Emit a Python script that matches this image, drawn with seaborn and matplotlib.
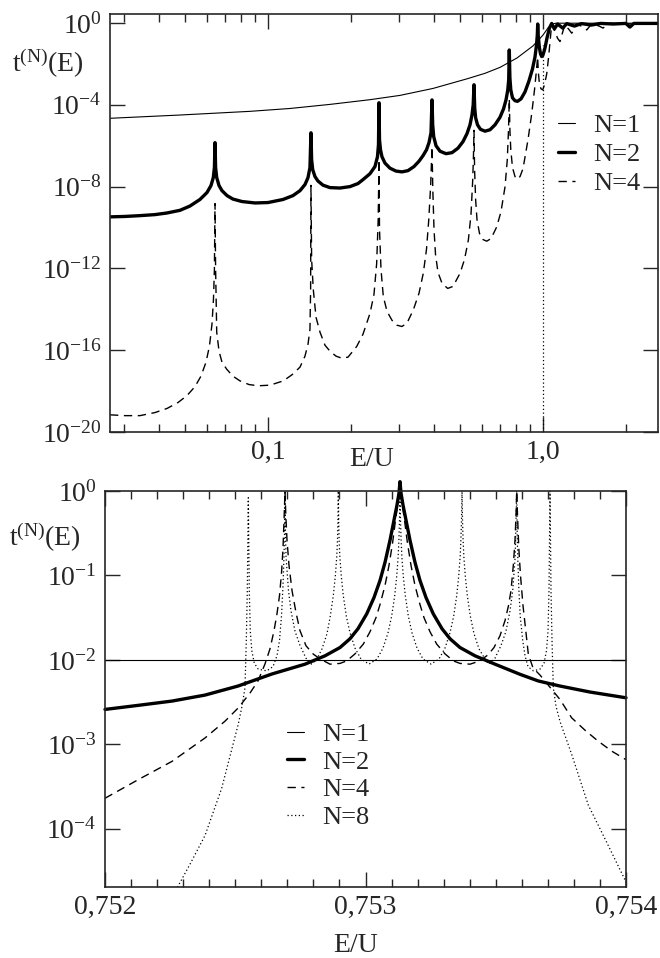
import numpy as np
import matplotlib
matplotlib.use("Agg")
import matplotlib.pyplot as plt
import seaborn as sns
from matplotlib.ticker import FixedLocator, FixedFormatter, NullLocator, NullFormatter, LogLocator, MultipleLocator

# ---- top panel: E/U on a log axis, values are log10 t(E)
top_e_n1 = [0.02664, 0.04786, 0.08598, 0.1202, 0.1681, 0.2349, 0.302, 0.3981, 0.5293, 0.6154,
            0.6977, 0.8045, 0.9197, 1.0, 1.0428, 1.0783, 1.1150, 2.619]
top_lt_n1 = [-4.66, -4.50, -4.32, -4.18, -3.98, -3.75, -3.54, -3.20, -2.73, -2.46,
             -2.17, -1.71, -1.12, -0.59, -0.24, -0.05, -0.01, -0.01]

top_e_n2 = [0.02664, 0.0302, 0.03423, 0.03881, 0.04292, 0.04786, 0.05204, 0.05657, 0.06001, 0.06205,
            0.06326, 0.06385, 0.06417,
            0.06450, 0.06510, 0.06637, 0.06805, 0.07096, 0.07457, 0.08042, 0.08969, 0.1, 0.1134,
            0.1233, 0.1307, 0.1363, 0.1398, 0.1421, 0.1433,
            0.1441, 0.1454, 0.1482, 0.1520, 0.1585, 0.1681, 0.1827, 0.1987, 0.2125, 0.2215,
            0.2349, 0.2449, 0.2501, 0.2522, 0.2533,
            0.2544, 0.2565, 0.2597, 0.2663, 0.2777, 0.2920, 0.3069, 0.3228, 0.3395, 0.3540,
            0.3661, 0.3770, 0.3850, 0.3915, 0.3948,
            0.3971, 0.4005, 0.4083, 0.4222, 0.4439, 0.4668, 0.4908, 0.5118, 0.5292, 0.5427,
            0.5518, 0.5574, 0.5612,
            0.5645, 0.5688, 0.5779, 0.5926, 0.6154, 0.6417, 0.6690, 0.6977, 0.7185, 0.7337,
            0.7447, 0.7503, 0.7541,
            0.7579, 0.7636, 0.7746, 0.7910, 0.8077, 0.8318, 0.8601, 0.8893, 0.9159, 0.9352,
            0.9470, 0.9534, 0.9566,
            0.9606, 0.9695, 0.9793, 0.9892, 1.0, 1.0169, 1.0341, 1.0559, 1.0755, 1.10,
            1.13, 1.18, 1.22, 1.30, 1.38, 1.50, 1.62, 1.80, 2.0, 2.07,
            2.14, 2.619]
top_lt_n2 = [-9.48, -9.46, -9.42, -9.37, -9.29, -9.16, -8.95, -8.63, -8.29, -7.95,
             -7.56, -7.07, -5.85,
             -7.07, -7.56, -7.95, -8.20, -8.44, -8.61, -8.73, -8.80, -8.78, -8.63,
             -8.44, -8.20, -7.90, -7.56, -7.07, -5.37,
             -6.68, -7.17, -7.51, -7.73, -7.93, -8.05, -8.07, -8.00, -7.85, -7.66,
             -7.37, -7.02, -6.54, -5.95, -3.90,
             -5.71, -6.20, -6.54, -6.85, -7.10, -7.24, -7.28, -7.22, -7.02, -6.76,
             -6.49, -6.20, -5.85, -5.37, -3.76,
             -4.98, -5.56, -6.00, -6.27, -6.39, -6.34, -6.12, -5.80, -5.41, -4.98,
             -4.49, -4.00, -3.02,
             -4.15, -4.63, -4.98, -5.20, -5.29, -5.22, -4.98, -4.61, -4.20, -3.76,
             -3.27, -2.78, -1.32,
             -2.68, -3.27, -3.66, -3.80, -3.83, -3.71, -3.37, -2.83, -2.24, -1.66,
             -1.07, -0.59, -0.05,
             -0.59, -1.17, -1.51, -1.64, -1.56, -1.22, -0.73, -0.24, -0.02, -0.29,
             -0.05, -0.25, -0.03, -0.15, -0.03, -0.10, -0.02, -0.05, -0.02, -0.20,
             -0.02, -0.02]

top_e_n4 = [0.02664, 0.0302, 0.03423, 0.03881, 0.04292, 0.04707, 0.05075, 0.05427, 0.05705, 0.05950,
            0.06126, 0.06256, 0.06335, 0.06385, 0.06417,
            0.06450, 0.06510, 0.06637, 0.06805, 0.07078, 0.07457, 0.07908, 0.08531, 0.09219, 0.1017,
            0.1137, 0.1223, 0.1307, 0.1363, 0.1398, 0.1421, 0.1429, 0.1433,
            0.1441, 0.1461, 0.1495, 0.1546, 0.1612, 0.1681, 0.1767, 0.1854, 0.1954, 0.2101,
            0.2215, 0.2349, 0.2429, 0.2484, 0.2516, 0.2533,
            0.2544, 0.2576, 0.2626, 0.2709, 0.2825, 0.2945, 0.3069, 0.3201, 0.3376, 0.3540,
            0.3670, 0.3770, 0.3843, 0.3905, 0.3935, 0.3948,
            0.3975, 0.4015, 0.4066, 0.4152, 0.4294, 0.4503, 0.4707, 0.4992, 0.5183, 0.5352,
            0.5472, 0.5551, 0.5588, 0.5612,
            0.5640, 0.5688, 0.5754, 0.5876, 0.6051, 0.6243, 0.6473, 0.6787, 0.7036, 0.7276,
            0.7416, 0.7491, 0.7541,
            0.7579, 0.7636, 0.7746, 0.7910, 0.8064, 0.8249, 0.8459, 0.8601, 0.8819, 0.9097,
            0.9313, 0.9454, 0.9560,
            0.9614, 0.9711, 0.9834, 0.9975, 1.0126, 1.0315, 1.0471, 1.0604, 1.0755, 1.10,
            1.13, 1.153, 1.17, 1.20, 1.24, 1.272, 1.30, 1.33, 1.40, 1.442,
            1.48, 1.52, 1.60, 1.653, 1.70, 1.75, 2.0, 2.619]
top_lt_n4 = [-19.16, -19.20, -19.20, -19.05, -18.85, -18.56, -18.22, -17.78, -17.27, -16.59,
             -15.80, -14.73, -13.51, -12.05, -8.83,
             -12.05, -15.12, -16.05, -16.59, -16.93, -17.27, -17.50, -17.68, -17.74, -17.71,
             -17.50, -17.20, -16.83, -16.29, -15.71, -14.98, -13.02, -7.94,
             -11.56, -13.02, -14.39, -15.12, -15.76, -16.05, -16.29, -16.39, -16.34, -15.82,
             -15.22, -14.20, -13.27, -11.76, -9.61, -6.68,
             -10.10, -12.05, -13.37, -14.10, -14.54, -14.78, -14.84, -14.68, -14.03, -13.22,
             -12.24, -11.07, -9.61, -7.90, -6.68, -6.05,
             -8.15, -10.10, -11.32, -12.20, -12.73, -12.98, -12.88, -12.24, -11.56, -10.62,
             -9.37, -7.69, -6.44, -5.25,
             -7.17, -8.63, -9.61, -10.29, -10.59, -10.67, -10.54, -9.97, -9.22, -8.01,
             -6.68, -5.22, -3.71,
             -5.22, -6.20, -7.07, -7.51, -7.64, -7.51, -7.12, -6.55, -5.71, -4.44,
             -3.27, -2.39, -1.66,
             -2.39, -3.02, -3.22, -3.27, -3.02, -2.49, -1.71, -0.93, -0.05, -0.35,
             -0.75, -0.91, -0.60, -0.10, -0.30, -0.50, -0.30, -0.05, -0.20, -0.34,
             -0.15, -0.05, -0.15, -0.25, -0.10, -0.02, -0.05, -0.01]

barrier_e = 1.0
barrier_lt = [-20.0, -1.1]

# ---- bottom panel: one band, E/U = 0.752 + de * 1e-6
e0 = 0.752
bot_de_n1 = [0.0, 2000.0]
bot_lt_n1 = [-2.0, -2.0]

bot_de_n2 = [0.0, 134.4, 257.2, 383.9, 510.6, 641.1, 767.8, 844.5, 902.1, 940.5,
             971.2, 1004.6, 1032.6, 1055.7, 1074.9, 1094.1, 1109.4, 1120.9, 1128.6, 1132.4,
             1136.3, 1144.0, 1155.5, 1170.8, 1190.0, 1209.2, 1232.3, 1260.3, 1293.7, 1324.4,
             1362.8, 1420.4, 1497.1, 1593.1, 1663.4, 1746.7, 1861.8, 2000.0]
bot_lt_n2 = [-2.587, -2.536, -2.488, -2.417, -2.310, -2.167, -2.051, -1.952, -1.854, -1.750,
             -1.631, -1.456, -1.262, -1.060, -0.845, -0.583, -0.345, -0.167, -0.024, 0.111,
             -0.024, -0.167, -0.345, -0.583, -0.845, -1.060, -1.262, -1.456, -1.631, -1.750,
             -1.854, -1.952, -2.051, -2.171, -2.25, -2.31, -2.381, -2.449]

bot_de_n4 = [0.0, 126.7, 257.2, 383.9, 460.7, 511.7, 556.6, 587.3, 614.2, 633.4,
             648.8, 660.3, 669.9, 677.5, 683.3, 687.9, 691.0,
             694.1, 698.7, 706.3, 717.9, 733.2, 748.6, 771.6, 799.6, 825.3, 863.7,
             902.1, 927.9, 959.7, 991.6, 1017.3, 1040.3, 1055.7, 1074.9, 1090.2, 1103.7,
             1115.2, 1124.8, 1132.4,
             1140.1, 1149.7, 1161.2, 1174.7, 1190.0, 1209.2, 1224.6, 1247.6, 1273.3, 1305.2,
             1337.1, 1362.8, 1401.2, 1439.6, 1470.3, 1493.3, 1516.3, 1535.5, 1549.0, 1558.6,
             1567.4, 1573.9, 1577.8, 1580.4,
             1583.5, 1588.5, 1595.0, 1604.6, 1616.1, 1625.0, 1643.0, 1669.9, 1701.8, 1746.7,
             1791.6, 1842.6, 1893.7, 1946.3, 2000.0]
bot_lt_n4 = [-3.639, -3.420, -3.202, -2.925, -2.726, -2.568, -2.393, -2.25, -2.048, -1.869,
             -1.655, -1.452, -1.238, -0.976, -0.679, -0.286, 0.0,
             -0.286, -0.583, -0.881, -1.179, -1.440, -1.655, -1.833, -1.932, -1.988, -2.051,
             -2.042, -2.012, -1.929, -1.813, -1.667, -1.5, -1.345, -1.119, -0.881, -0.619,
             -0.345, -0.131, 0.0,
             -0.131, -0.345, -0.619, -0.881, -1.119, -1.345, -1.5, -1.667, -1.813, -1.929,
             -2.012, -2.042, -2.051, -2.012, -1.940, -1.854, -1.714, -1.536, -1.357, -1.179,
             -0.881, -0.583, -0.286, 0.0,
             -0.286, -0.679, -1.0, -1.357, -1.679, -1.932, -2.095, -2.18, -2.30, -2.47,
             -2.687, -2.833, -2.964, -3.083, -3.182]

bot_de_n8 = [257.2, 275.2, 326.3, 383.9, 448.0, 479.9, 511.7, 525.9, 537.4, 542.4,
             546.3, 548.2, 550.1, 552.0, 553.9, 557.8, 563.5, 573.1, 588.5, 620.7,
             644.9, 660.3, 669.9, 677.5, 683.3, 687.1, 689.1, 691.0, 692.9, 694.8,
             698.7, 704.4, 714.0, 729.4, 748.6, 771.6, 792.7, 813.8, 833.0, 852.2,
             864.9, 876.4, 884.1, 889.8, 892.5, 894.1, 895.6, 897.1, 898.7, 901.4,
             907.1, 914.8, 926.3, 940.5, 959.7, 982.7, 1013.4, 1044.2, 1067.2, 1086.4,
             1100.6, 1112.1, 1119.8, 1125.5, 1128.2, 1130.5, 1132.4, 1134.4, 1136.7, 1139.4,
             1145.1, 1152.8, 1164.3, 1178.5, 1197.7, 1220.7, 1251.4, 1282.2, 1305.2, 1324.4,
             1338.6, 1350.1, 1357.8, 1363.5, 1366.2, 1368.5, 1370.5, 1372.4, 1374.7, 1377.4,
             1383.1, 1390.8, 1402.3, 1416.5, 1435.7, 1458.7, 1474.1, 1497.1, 1520.2, 1539.4,
             1554.7, 1565.1, 1570.8, 1574.7, 1576.6, 1580.4, 1582.4, 1584.3, 1588.1, 1593.9,
             1603.5, 1612.3, 1623.8, 1644.2, 1669.9, 1685.2, 1694.8, 1700.6, 1704.4, 1706.3,
             1708.3, 1710.2, 1712.1, 1716.0, 1720.9, 1731.3, 1746.7, 1791.6, 1855.3, 1919.4,
             2000.0]
bot_lt_n8 = [-4.81, -4.71, -4.42, -4.08, -3.52, -3.14, -2.76, -2.55, -2.33, -1.77,
             -1.18, -0.64, -0.08, -0.64, -1.18, -1.66, -1.89, -2.04, -2.11, -2.13,
             -2.08, -1.95, -1.77, -1.48, -1.12, -0.77, -0.52, 0.0, -0.52, -0.77,
             -0.94, -1.18, -1.42, -1.66, -1.83, -1.98, -2.05, -1.99, -1.87, -1.69,
             -1.48, -1.24, -1.01, -0.77, -0.58, -0.35, 0.0, -0.35, -0.58, -0.77,
             -1.01, -1.24, -1.48, -1.68, -1.86, -1.99, -2.05, -1.99, -1.86, -1.68,
             -1.48, -1.24, -1.01, -0.77, -0.58, -0.35, 0.0, -0.35, -0.58, -0.77,
             -1.01, -1.24, -1.48, -1.68, -1.86, -1.99, -2.05, -1.99, -1.86, -1.68,
             -1.48, -1.24, -1.01, -0.77, -0.58, -0.35, 0.0, -0.35, -0.58, -0.77,
             -1.01, -1.24, -1.48, -1.69, -1.87, -1.99, -2.05, -1.98, -1.83, -1.66,
             -1.42, -1.18, -0.94, -0.77, -0.52, 0.0, -0.52, -0.77, -1.12, -1.48,
             -1.77, -1.95, -2.08, -2.13, -2.11, -2.04, -1.89, -1.66, -1.18, -0.64,
             0.0, -0.64, -1.18, -1.77, -2.33, -2.55, -2.73, -3.12, -3.72, -4.12,
             -4.63]

sns.set_style("ticks")
plt.rcParams["font.family"] = ["Liberation Serif", "DejaVu Serif"]
plt.rcParams["mathtext.fontset"] = "custom"
plt.rcParams["mathtext.rm"] = "Liberation Serif"
plt.rcParams["mathtext.it"] = "Liberation Serif:italic"
plt.rcParams["mathtext.default"] = "regular"

FS = 20
thin = dict(color="black", linewidth=0.8, linestyle="-")
thick = dict(color="black", linewidth=2.4, linestyle="-")
dash = dict(color="black", linewidth=1.0, linestyle=(0, (6, 4)))
dot = dict(color="black", linewidth=0.9, linestyle=(0, (1, 2)))

fig = plt.figure(figsize=(6.6, 9.58), dpi=100)
ax1 = fig.add_axes([110 / 660, 1 - 432 / 958, 548 / 660, 418 / 958])
ax2 = fig.add_axes([105 / 660, 1 - 887 / 958, 521 / 660, 396 / 958])


def pw(v):
    return 10.0 ** np.array(v)


def be(de):
    return e0 + np.array(de) * 1e-6


# top panel
ax1.set_xscale("log")
ax1.set_yscale("log")
sns.lineplot(x=top_e_n1, y=pw(top_lt_n1), ax=ax1, errorbar=None, sort=False, label="N=1", **thin)
sns.lineplot(x=top_e_n2, y=pw(top_lt_n2), ax=ax1, errorbar=None, sort=False, label="N=2", **thick)
sns.lineplot(x=top_e_n4, y=pw(top_lt_n4), ax=ax1, errorbar=None, sort=False, label="N=4", **dash)
ax1.vlines(barrier_e, 10.0 ** barrier_lt[0], 10.0 ** barrier_lt[1], colors="black",
           linewidth=0.9, linestyles=[(0, (1, 2))])
ax1.set_xlim(0.02664, 2.619)
ax1.set_ylim(1e-20, 10 ** 0.44)
ax1.xaxis.set_major_locator(FixedLocator([0.1, 1.0]))
ax1.xaxis.set_major_formatter(FixedFormatter(["0,1", "1,0"]))
ax1.xaxis.set_minor_locator(LogLocator(base=10, subs=np.arange(2, 10), numticks=20))
ax1.xaxis.set_minor_formatter(NullFormatter())
ax1.yaxis.set_major_locator(FixedLocator([1e0, 1e-4, 1e-8, 1e-12, 1e-16, 1e-20]))
ax1.yaxis.set_major_formatter(FixedFormatter(["$10^{0}$", "$10^{-4}$", "$10^{-8}$",
                                               "$10^{-12}$", "$10^{-16}$", "$10^{-20}$"]))
ax1.yaxis.set_minor_locator(NullLocator())
ax1.legend(loc="upper left", bbox_to_anchor=(0.8175, 0.762), frameon=False, fontsize=19,
           borderpad=0, borderaxespad=0, handlelength=0.65, handletextpad=0.7, labelspacing=0.21)

# bottom panel
ax2.set_yscale("log")
sns.lineplot(x=be(bot_de_n1), y=pw(bot_lt_n1), ax=ax2, errorbar=None, sort=False, label="N=1", **thin)
sns.lineplot(x=be(bot_de_n2), y=pw(bot_lt_n2), ax=ax2, errorbar=None, sort=False, label="N=2",
             clip_on=False, **thick)
sns.lineplot(x=be(bot_de_n4), y=pw(bot_lt_n4), ax=ax2, errorbar=None, sort=False, label="N=4", **dash)
sns.lineplot(x=be(bot_de_n8), y=pw(bot_lt_n8), ax=ax2, errorbar=None, sort=False, label="N=8", **dot)
ax2.set_xlim(0.752, 0.754)
ax2.set_ylim(10 ** -4.69, 1.0)
ax2.xaxis.set_major_locator(FixedLocator([0.752, 0.753, 0.754]))
ax2.xaxis.set_major_formatter(FixedFormatter(["0,752", "0,753", "0,754"]))
ax2.xaxis.set_minor_locator(MultipleLocator(0.0001))
ax2.yaxis.set_major_locator(FixedLocator([1e0, 1e-1, 1e-2, 1e-3, 1e-4]))
ax2.yaxis.set_major_formatter(FixedFormatter(["$10^{0}$", "$10^{-1}$", "$10^{-2}$",
                                               "$10^{-3}$", "$10^{-4}$"]))
ax2.yaxis.set_minor_locator(NullLocator())
ax2.legend(loc="upper left", bbox_to_anchor=(0.349, 0.415), frameon=False, fontsize=19,
           borderpad=0, borderaxespad=0, handlelength=0.65, handletextpad=0.7, labelspacing=0.155)

for ax in (ax1, ax2):
    ax.tick_params(which="both", direction="in", top=True, right=True, labelsize=FS, width=1.0)
    ax.tick_params(which="major", length=11, pad=6)
    ax.tick_params(which="minor", length=5.5)
    for sp in ax.spines.values():
        sp.set_linewidth(1.2)
    ax.set_ylabel("t$^{(N)}$(E)", fontsize=FS, rotation=0, ha="center", va="center")
    ax.set_xlabel("E/U", fontsize=FS, va="top")

ax1.yaxis.set_label_coords(-0.113, 0.883)
ax1.xaxis.set_label_coords(0.478, -0.036)
ax2.yaxis.set_label_coords(-0.115, 0.884)
ax2.xaxis.set_label_coords(0.48, -0.116)

fig.savefig("out.png", dpi=100)
